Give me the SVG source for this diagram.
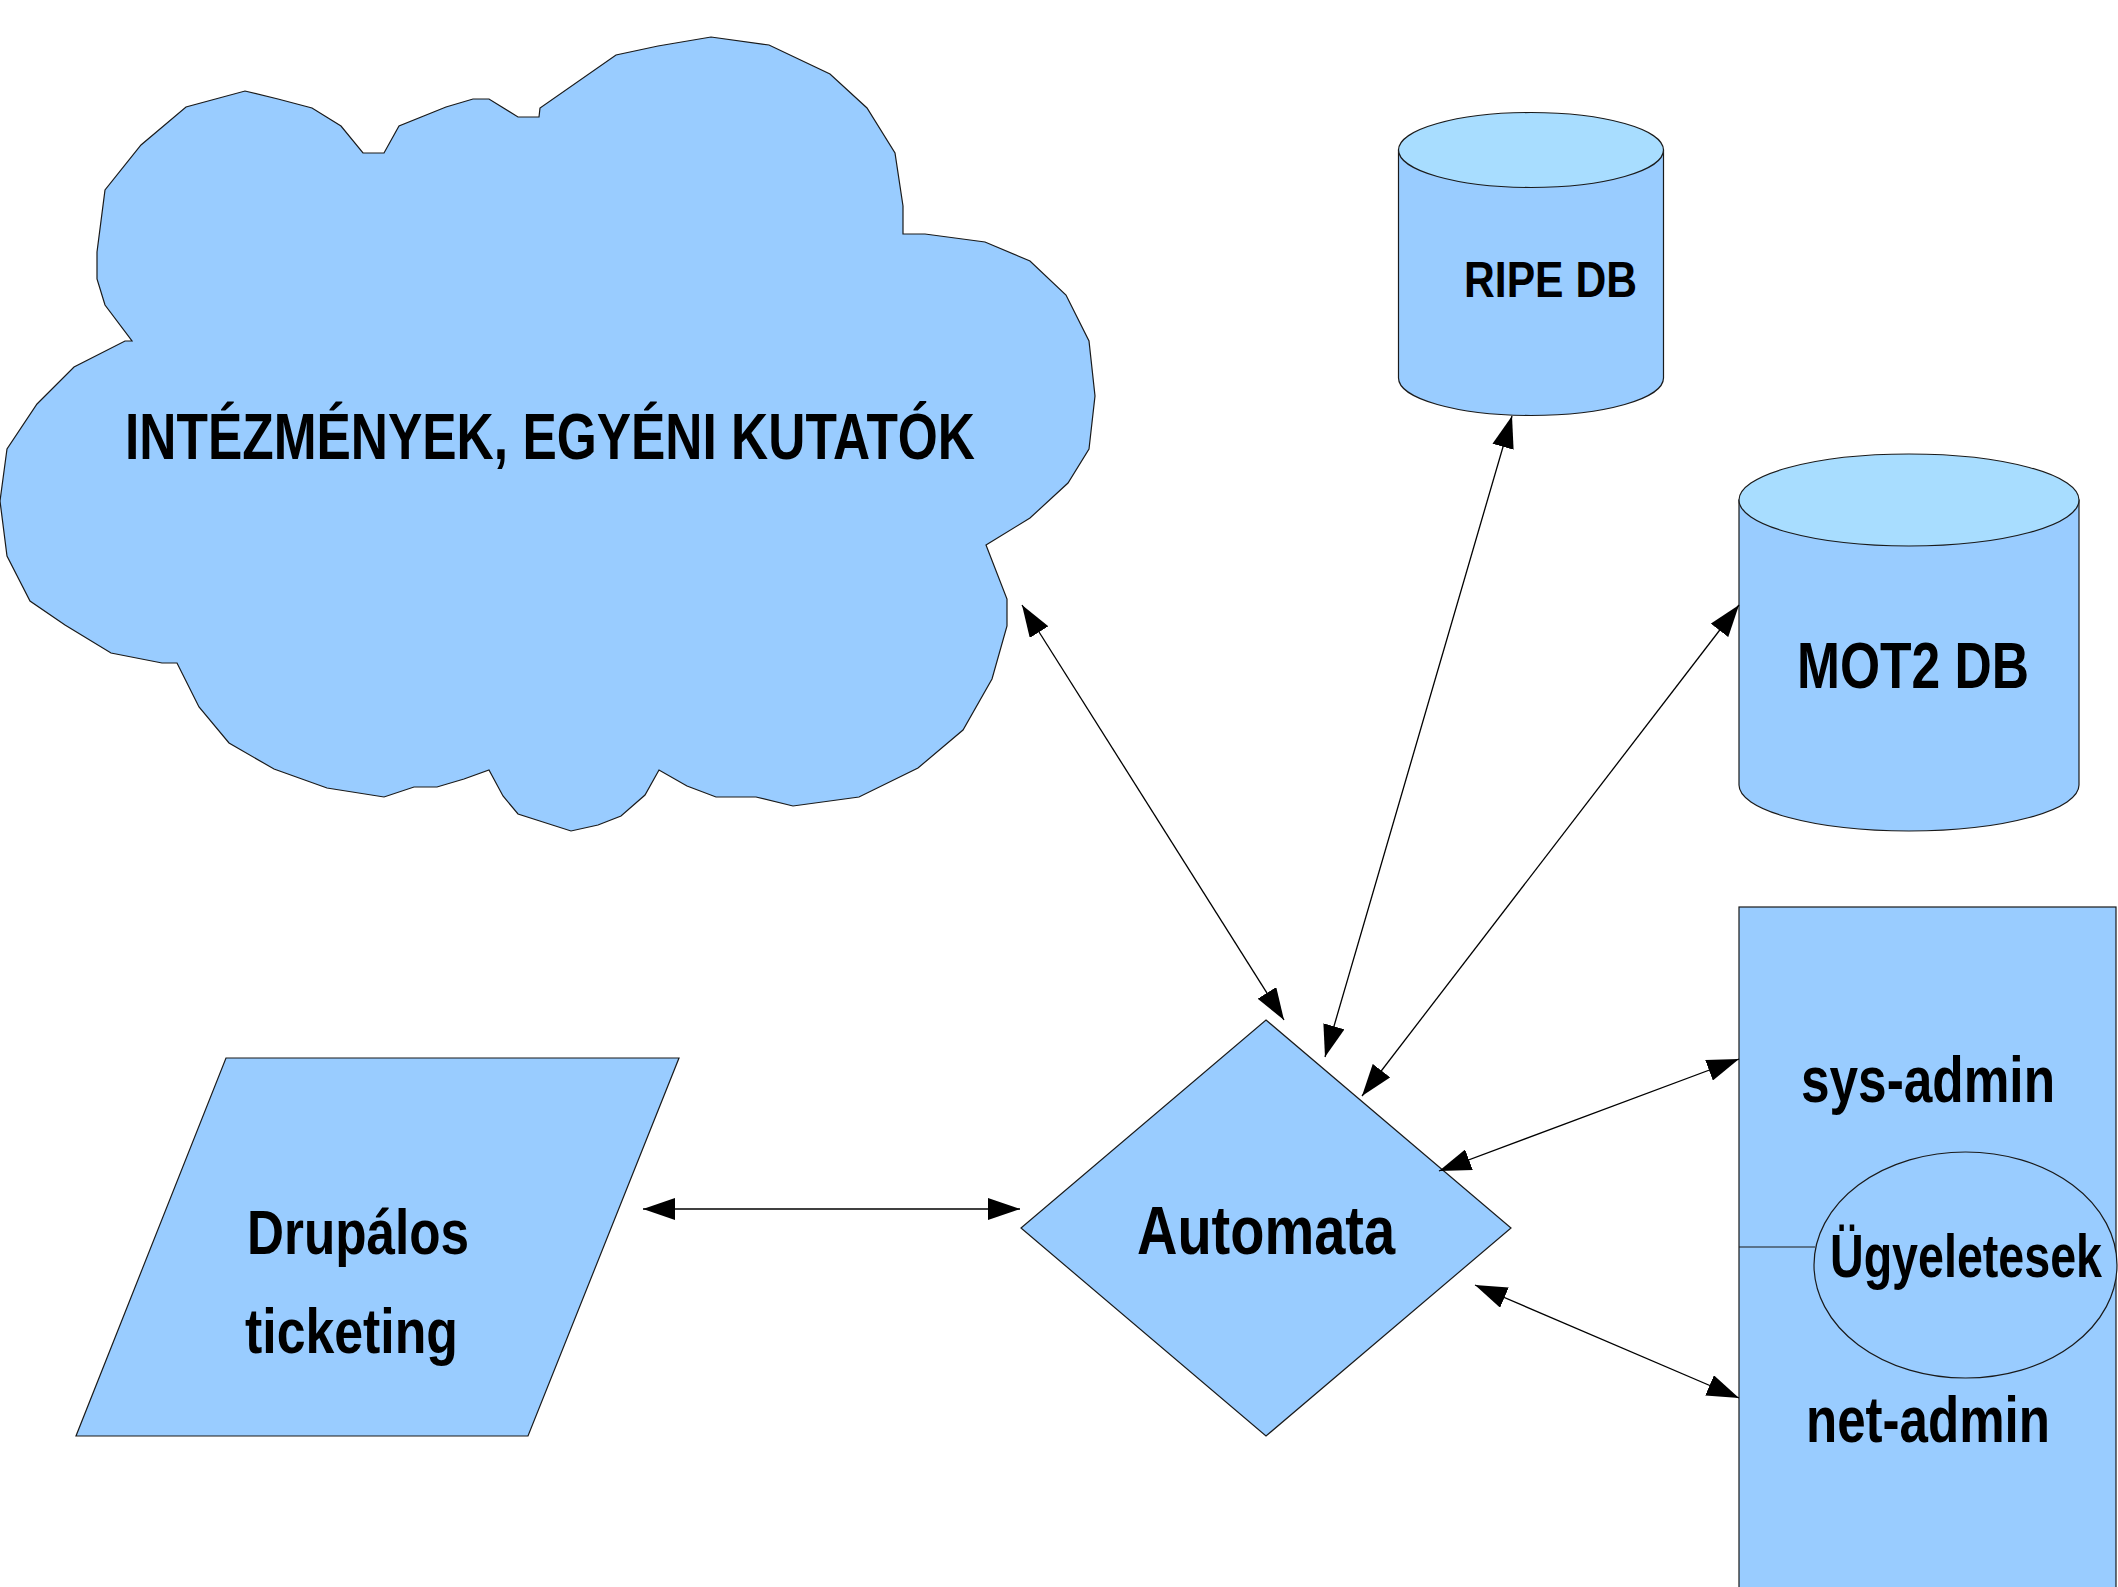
<svg xmlns="http://www.w3.org/2000/svg" width="2118" height="1587" viewBox="0 0 2118 1587">
  <style>
    .shape { fill: #99ccff; stroke: #1a1a1a; stroke-width: 1.2; }
    .cap { fill: #a8ddff; stroke: #1a1a1a; stroke-width: 1.2; }
    .label { font-family: "Liberation Sans Narrow", "Liberation Sans", Arial, sans-serif; font-weight: bold; fill: #000; }
    .link { fill: none; stroke: #000; stroke-width: 1.3; marker-start: url(#head); marker-end: url(#head); }
  </style>
  <defs>
    <marker id="head" viewBox="0 0 32 22" refX="32" refY="11" markerWidth="32" markerHeight="22" markerUnits="userSpaceOnUse" orient="auto-start-reverse">
      <path d="M0,0 L32,11 L0,22 Z" fill="#000"/>
    </marker>
  </defs>
  <rect width="2118" height="1587" fill="#fff"/>

  <!-- institutions cloud -->
  <g id="cloud">
    <polygon class="shape" points="0,501 7,449 37,404 74,367 125,341 132,341 105,305 97,279 97,252 105,190 141,145 186,107 245,91 278,99 312,108 341,126 363,153 384,153 399,126 446,107 473,99 489,99 518,117 539,117 540,108 616,55 658,46 711,37 769,45 830,74 867,108 895,153 903,206 903,234 925,234 985,242 1030,261 1066,295 1089,341 1095,396 1089,449 1068,483 1030,518 986,545 1007,599 1007,626 992,679 963,730 918,768 859,797 793,806 756,797 716,797 687,786 659,770 645,795 621,816 598,825 571,831 518,814 503,796 489,770 464,779 437,787 414,787 384,797 327,788 274,769 229,743 199,707 177,663 162,663 111,653 65,625 30,601 7,556"/>
    <text class="label" x="125" y="459" font-size="64" textLength="850" lengthAdjust="spacingAndGlyphs">INTÉZMÉNYEK, EGYÉNI KUTATÓK</text>
  </g>

  <!-- RIPE database -->
  <g id="ripe-db">
    <path class="shape" d="M1398.5,150 L1398.5,378 A132.5,37.5 0 0 0 1663.5,378 L1663.5,150 Z"/>
    <ellipse class="cap" cx="1531" cy="150" rx="132.5" ry="37.5"/>
    <text class="label" x="1464" y="297" font-size="50" textLength="173" lengthAdjust="spacingAndGlyphs">RIPE DB</text>
  </g>

  <!-- MOT2 database -->
  <g id="mot2-db">
    <path class="shape" d="M1739,500 L1739,785 A170,46 0 0 0 2079,785 L2079,500 Z"/>
    <ellipse class="cap" cx="1909" cy="500" rx="170" ry="46"/>
    <text class="label" x="1797" y="688" font-size="64" textLength="232" lengthAdjust="spacingAndGlyphs">MOT2 DB</text>
  </g>

  <!-- ticketing input -->
  <g id="drupal">
    <polygon class="shape" points="226,1058 679,1058 528,1436 76,1436"/>
    <text class="label" x="247" y="1254" font-size="63" textLength="222" lengthAdjust="spacingAndGlyphs">Drupálos</text>
    <text class="label" x="245" y="1353" font-size="63" textLength="213" lengthAdjust="spacingAndGlyphs">ticketing</text>
  </g>

  <!-- central automaton -->
  <g id="automata">
    <polygon class="shape" points="1266,1020 1511,1228 1266,1436 1021,1228"/>
    <text class="label" x="1137" y="1254" font-size="68" textLength="258" lengthAdjust="spacingAndGlyphs">Automata</text>
  </g>

  <!-- admins column -->
  <g id="admins">
    <rect class="shape" x="1739" y="907" width="377" height="700"/>
    <text class="label" x="1801" y="1102" font-size="64" textLength="254" lengthAdjust="spacingAndGlyphs">sys-admin</text>
    <text class="label" x="1806" y="1442" font-size="64" textLength="244" lengthAdjust="spacingAndGlyphs">net-admin</text>
  </g>

  <g id="ugyeletesek">
    <line x1="1739" y1="1247" x2="1815" y2="1247" stroke="#1a1a1a" stroke-width="1.2"/>
    <ellipse class="shape" cx="1965.5" cy="1265" rx="151.5" ry="113"/>
    <text class="label" x="1830" y="1277" font-size="62" textLength="272" lengthAdjust="spacingAndGlyphs">Ügyeletesek</text>
  </g>

  <!-- connectors -->
  <g id="connectors">
    <line class="link" x1="1022" y1="605" x2="1284" y2="1020"/>
    <line class="link" x1="1512" y1="416" x2="1325" y2="1057"/>
    <line class="link" x1="1739" y1="605" x2="1362" y2="1096"/>
    <line class="link" x1="1739" y1="1059" x2="1439" y2="1171"/>
    <line class="link" x1="1739" y1="1398" x2="1475" y2="1285"/>
    <line class="link" x1="643" y1="1209" x2="1020" y2="1209"/>
  </g>
</svg>
